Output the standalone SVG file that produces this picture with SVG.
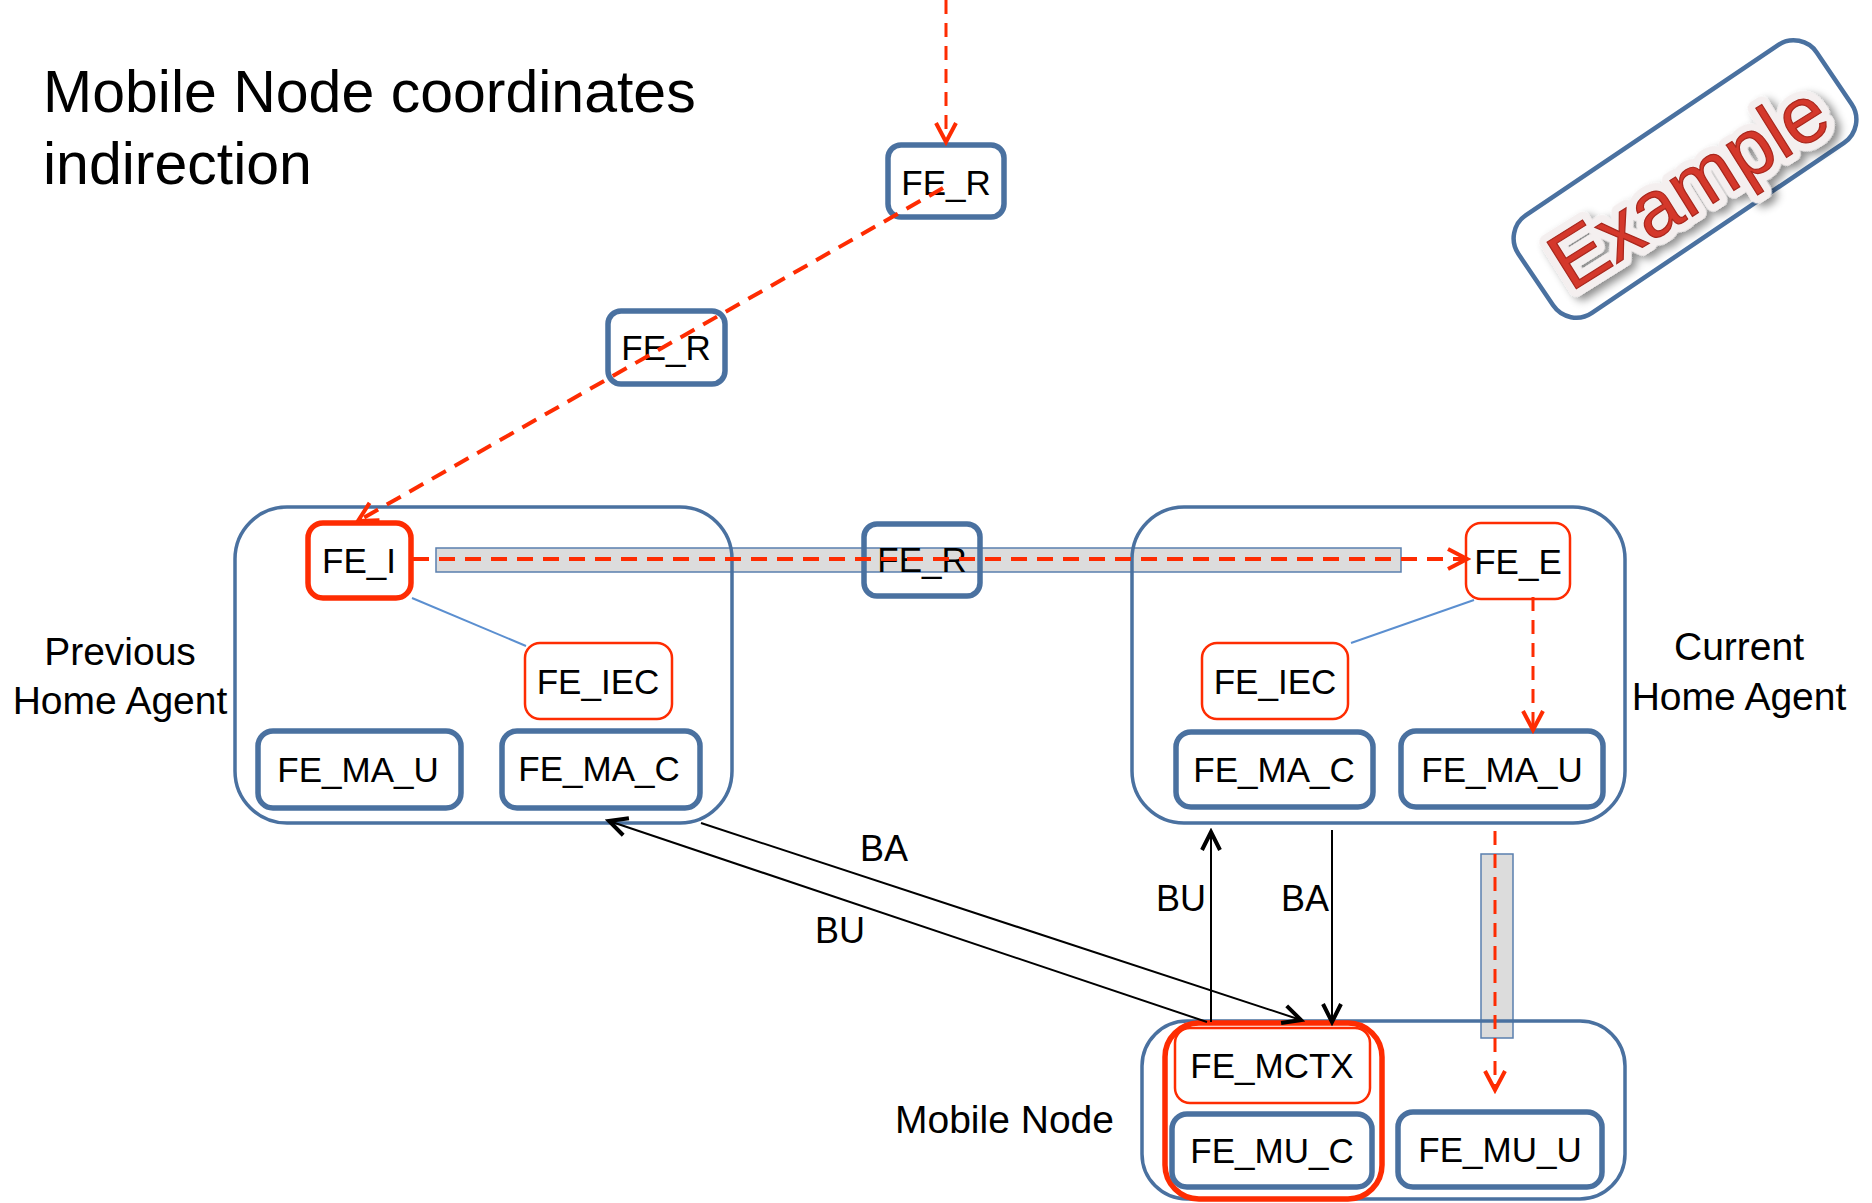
<svg xmlns="http://www.w3.org/2000/svg" width="1872" height="1203" viewBox="0 0 1872 1203">
<style>
text{font-family:"Liberation Sans",Arial,sans-serif;fill:#000}
.lbl{font-size:35px;text-anchor:middle}
.big{font-size:39px}
.mid{text-anchor:middle}
.cont{fill:none;stroke:#4a71a0;stroke-width:3.5}
.bbox{fill:none;stroke:#4a71a0;stroke-width:5.5}
.rthick{fill:none;stroke:#fe2c02;stroke-width:5.5}
.rthin{fill:none;stroke:#fe2c02;stroke-width:2.5}
.band{fill:#dcdcdc;stroke:#5a7fae;stroke-width:1.5}
.thin{stroke:#5b8fd0;stroke-width:2;fill:none}
.rdash{stroke:#fe2c02;stroke-width:4;fill:none;stroke-dasharray:16 10}
.rdash2{stroke:#fe2c02;stroke-width:3;fill:none;stroke-dasharray:14 9}
.blk{stroke:#000;stroke-width:2;fill:none}
</style>
<defs>
<marker id="ra" markerUnits="userSpaceOnUse" viewBox="0 0 28 28" markerWidth="28" markerHeight="28" refX="24" refY="14" orient="auto">
<path d="M5,4 L24,14 L5,24" fill="none" stroke="#fe2c02" stroke-width="4" stroke-dasharray="none"/>
</marker>
<marker id="ka" markerUnits="userSpaceOnUse" viewBox="0 0 28 28" markerWidth="28" markerHeight="28" refX="24" refY="14" orient="auto">
<path d="M6,5 L24,14 L6,23" fill="none" stroke="#000" stroke-width="4" stroke-dasharray="none"/>
</marker>
<filter id="sh" x="-20%" y="-40%" width="140%" height="180%">
<feDropShadow dx="3" dy="6" stdDeviation="4" flood-color="#000" flood-opacity="0.45"/>
</filter>
</defs>

<g id="title">
<text x="43" y="112" style="font-size:59px">Mobile Node coordinates</text>
<text x="43" y="184" style="font-size:59px">indirection</text>
</g>

<g id="bands">
<rect class="band" x="436" y="548" width="965" height="24"/>
<rect class="band" x="1481" y="854" width="32" height="184"/>
</g>

<g id="previous-home-agent">
<rect class="cont" x="235" y="507" width="497" height="316" rx="52"/>
<text class="big mid" x="120" y="665">Previous</text>
<text class="big mid" x="120" y="714">Home Agent</text>
</g>
<g id="current-home-agent">
<rect class="cont" x="1132" y="507" width="493" height="316" rx="52"/>
<text class="big mid" x="1739" y="660">Current</text>
<text class="big mid" x="1739" y="710">Home Agent</text>
</g>
<g id="mobile-node">
<rect class="cont" x="1142" y="1021" width="483" height="178" rx="45"/>
<text class="big" x="895" y="1133">Mobile Node</text>
<rect class="rthick" x="1165" y="1023" width="217" height="176" rx="34"/>
</g>

<g id="fe-r-top"><rect class="bbox" x="888" y="145" width="116" height="72" rx="13"/><text class="lbl" x="946" y="195">FE_R</text></g>
<g id="fe-r-mid"><rect class="bbox" x="608" y="311" width="117" height="73" rx="13"/><text class="lbl" x="666" y="360">FE_R</text></g>
<g id="fe-r-band"><rect class="bbox" x="864" y="524" width="116" height="72" rx="13"/><text class="lbl" x="922" y="572">FE_R</text></g>

<g id="fe-i"><rect class="rthick" x="308" y="523" width="103" height="75" rx="15"/><text class="lbl" x="359" y="573">FE_I</text></g>
<g id="fe-iec-prev"><rect class="rthin" x="525" y="643" width="147" height="76" rx="15"/><text class="lbl" x="598" y="694">FE_IEC</text></g>
<g id="fe-ma-u-prev"><rect class="bbox" x="258" y="731" width="203" height="77" rx="15"/><text class="lbl" x="358" y="782">FE_MA_U</text></g>
<g id="fe-ma-c-prev"><rect class="bbox" x="502" y="731" width="198" height="77" rx="15"/><text class="lbl" x="599" y="781">FE_MA_C</text></g>

<g id="fe-e"><rect class="rthin" x="1466" y="523" width="104" height="76" rx="15"/><text class="lbl" x="1518" y="574">FE_E</text></g>
<g id="fe-iec-cur"><rect class="rthin" x="1202" y="643" width="146" height="76" rx="15"/><text class="lbl" x="1275" y="694">FE_IEC</text></g>
<g id="fe-ma-c-cur"><rect class="bbox" x="1176" y="732" width="197" height="75" rx="15"/><text class="lbl" x="1274" y="782">FE_MA_C</text></g>
<g id="fe-ma-u-cur"><rect class="bbox" x="1401" y="731" width="202" height="76" rx="15"/><text class="lbl" x="1502" y="782">FE_MA_U</text></g>

<g id="fe-mctx"><rect class="rthin" x="1175" y="1028" width="195" height="75" rx="15"/><text class="lbl" x="1272" y="1078">FE_MCTX</text></g>
<g id="fe-mu-c"><rect class="bbox" x="1172" y="1114" width="200" height="73" rx="15"/><text class="lbl" x="1272" y="1163">FE_MU_C</text></g>
<g id="fe-mu-u"><rect class="bbox" x="1398" y="1112" width="204" height="75" rx="15"/><text class="lbl" x="1500" y="1162">FE_MU_U</text></g>

<g id="example-badge">
<rect x="1505" y="120" width="360" height="118" rx="28" transform="rotate(-34 1685 179)" fill="none" stroke="#4a71a0" stroke-width="4.5"/>
<g transform="rotate(-32 1688 186)">
<text x="1688" y="214" text-anchor="middle" style="font-size:80px;fill:#f4efef;stroke:#f4efef;stroke-width:16px;stroke-linejoin:round" filter="url(#sh)">Example</text>
<text x="1688" y="214" text-anchor="middle" style="font-size:80px;fill:#d4382b;stroke:#a8261c;stroke-width:1.2px">Example</text>
</g>
</g>

<g id="connectors">
<line class="thin" x1="412" y1="598" x2="526" y2="646"/>
<line class="thin" x1="1474" y1="600" x2="1351" y2="643"/>
<line class="rdash2" x1="946" y1="0" x2="946" y2="142" marker-end="url(#ra)"/>
<line class="rdash" x1="943" y1="188" x2="358" y2="521" marker-end="url(#ra)"/>
<line class="rdash" x1="413" y1="559" x2="1467" y2="559" marker-end="url(#ra)"/>
<line class="rdash2" x1="1533" y1="597" x2="1533" y2="730" marker-end="url(#ra)"/>
<line class="rdash2" x1="1495" y1="831" x2="1495" y2="1090" marker-end="url(#ra)"/>
<line class="blk" x1="701" y1="823" x2="1301" y2="1020" marker-end="url(#ka)"/>
<line class="blk" x1="1207" y1="1022" x2="609" y2="821" marker-end="url(#ka)"/>
<line class="blk" x1="1211" y1="1022" x2="1211" y2="832" marker-end="url(#ka)"/>
<line class="blk" x1="1332" y1="830" x2="1332" y2="1022" marker-end="url(#ka)"/>
<text x="860" y="861" style="font-size:36px">BA</text>
<text x="815" y="943" style="font-size:36px">BU</text>
<text x="1156" y="911" style="font-size:36px">BU</text>
<text x="1281" y="911" style="font-size:36px">BA</text>
</g>
</svg>
